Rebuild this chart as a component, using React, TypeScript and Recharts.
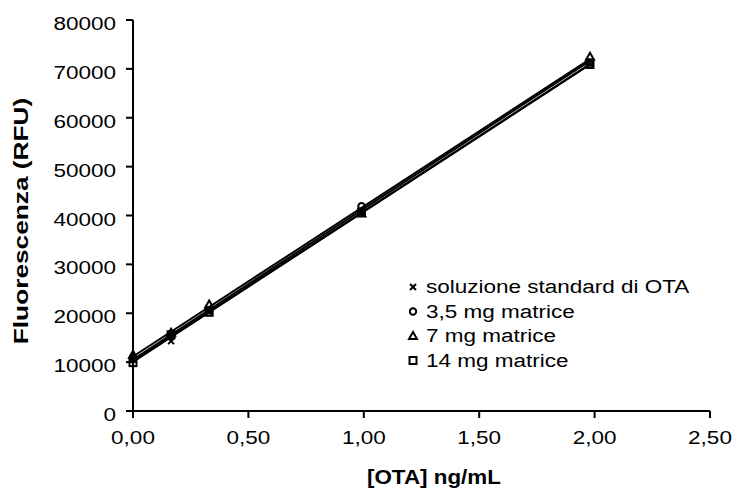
import React from "react"
import { ScatterChart, Scatter, XAxis, YAxis } from "recharts"

const concentrations = [0, 0.165, 0.33, 0.99, 1.98]
const standardValues = [10800, 14300, 20300, 40400, 71000]
const matrix35Values = [10600, 15200, 20600, 41900, 71300]
const matrix7Values = [11500, 16000, 21800, 40400, 72500]
const matrix14Values = [9900, 15600, 20200, 40700, 70900]

const xTicks = [0, 0.5, 1, 1.5, 2, 2.5]
const yTicks = [0, 10000, 20000, 30000, 40000, 50000, 60000, 70000, 80000]

const FONT = "Liberation Sans, Arial, sans-serif"
const STRETCH = 1.25

const toPoints = (values: number[]) => concentrations.map((x, i) => ({ x, y: values[i] }))

// linear trendline (least squares), as the spreadsheet draws it
function trend(values: number[]) {
  const n = concentrations.length
  const mx = concentrations.reduce((a, b) => a + b, 0) / n
  const my = values.reduce((a, b) => a + b, 0) / n
  let sxy = 0
  let sxx = 0
  concentrations.forEach((x, i) => {
    sxy += (x - mx) * (values[i] - my)
    sxx += (x - mx) * (x - mx)
  })
  const slope = sxy / sxx
  const icpt = my - slope * mx
  const x0 = concentrations[0]
  const x1 = concentrations[n - 1]
  return [
    { x: x0, y: icpt + slope * x0 },
    { x: x1, y: icpt + slope * x1 },
  ]
}

type ShapeProps = { cx?: number; cy?: number }

const Cross = ({ cx = 0, cy = 0 }: ShapeProps) => (
  <path d={`M${cx - 3},${cy - 3}L${cx + 3},${cy + 3}M${cx - 3},${cy + 3}L${cx + 3},${cy - 3}`} stroke="#000" strokeWidth={2} />
)
const Circle = ({ cx = 0, cy = 0 }: ShapeProps) => (
  <circle cx={cx} cy={cy} r={3.2} fill="none" stroke="#000" strokeWidth={2} />
)
const Triangle = ({ cx = 0, cy = 0 }: ShapeProps) => (
  <path d={`M${cx},${cy - 4}L${cx + 4},${cy + 3}L${cx - 4},${cy + 3}Z`} fill="none" stroke="#000" strokeWidth={2} />
)
const Square = ({ cx = 0, cy = 0 }: ShapeProps) => (
  <rect x={cx - 3.5} y={cy - 3.5} width={7} height={7} fill="none" stroke="#000" strokeWidth={2} />
)
const NoDot = () => <g />

const series = [
  { name: "soluzione standard di OTA", values: standardValues, Shape: Cross },
  { name: "3,5 mg matrice", values: matrix35Values, Shape: Circle },
  { name: "7 mg matrice", values: matrix7Values, Shape: Triangle },
  { name: "14 mg matrice", values: matrix14Values, Shape: Square },
]

const fmtX = (v: number) => v.toFixed(2).replace(".", ",")

function XTick(props: any) {
  const { x, y, payload } = props
  return (
    <text transform={`translate(${x},${y + 24}) scale(${STRETCH},1)`} textAnchor="middle" fontSize={18} fontFamily={FONT} fill="#000">
      {fmtX(payload.value)}
    </text>
  )
}

function YTick(props: any) {
  const { x, y, payload } = props
  return (
    <text transform={`translate(${x - 8},${y + 10}) scale(${STRETCH},1)`} textAnchor="end" fontSize={18} fontFamily={FONT} fill="#000">
      {payload.value}
    </text>
  )
}

export default function App() {
  return (
    <div style={{ position: "absolute", left: 0, top: 0, width: 737, height: 488, background: "#fff" }}>
      <ScatterChart width={737} height={488} margin={{ top: 20, right: 27, bottom: 47, left: 0 }}>
        <XAxis
          type="number"
          dataKey="x"
          domain={[0, 2.5]}
          ticks={xTicks}
          stroke="#000"
          strokeWidth={2}
          tickSize={7}
          height={30}
          tick={<XTick />}
        />
        <YAxis
          type="number"
          dataKey="y"
          domain={[0, 80000]}
          ticks={yTicks}
          stroke="#000"
          strokeWidth={2}
          tickSize={7}
          width={133}
          tick={<YTick />}
        />
        {series.map(({ name, values }) => (
          <Scatter
            key={name + "-trend"}
            data={trend(values)}
            line={{ stroke: "#000", strokeWidth: 2 }}
            shape={<NoDot />}
            isAnimationActive={false}
          />
        ))}
        {series.map(({ name, values, Shape }) => (
          <Scatter key={name} name={name} data={toPoints(values)} shape={<Shape />} isAnimationActive={false} />
        ))}
      </ScatterChart>
      <svg width={737} height={488} style={{ position: "absolute", left: 0, top: 0, pointerEvents: "none" }}>
        <text
          transform={`translate(28,221) rotate(-90) scale(${STRETCH},1)`}
          textAnchor="middle"
          fontSize={21}
          fontWeight="bold"
          fontFamily={FONT}
          fill="#000"
        >
          Fluorescenza (RFU)
        </text>
        <text transform={`translate(367,484) scale(1.12,1)`} fontSize={20} fontWeight="bold" fontFamily={FONT} fill="#000">
          [OTA] ng/mL
        </text>
        {series.map(({ name, Shape }, i) => (
          <g key={name}>
            <Shape cx={413} cy={287 + i * 24.5} />
            <text transform={`translate(426,${293 + i * 24.5}) scale(${STRETCH},1)`} fontSize={18} fontFamily={FONT} fill="#000">
              {name}
            </text>
          </g>
        ))}
      </svg>
    </div>
  )
}
